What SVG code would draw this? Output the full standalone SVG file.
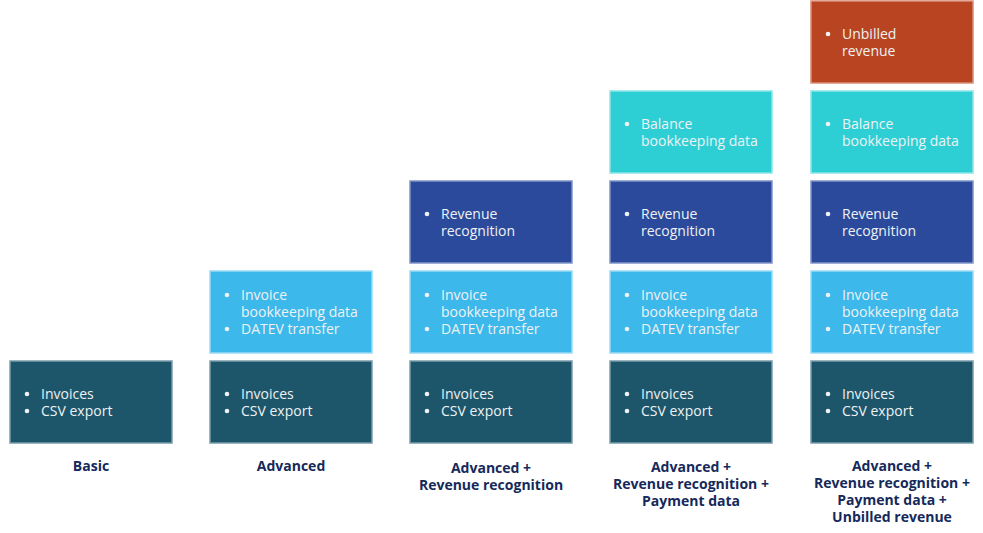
<svg xmlns="http://www.w3.org/2000/svg" width="983" height="533" viewBox="0 0 983 533">
<style>
rect{stroke-width:1.5}
.a{fill:#1D566B;stroke:#7A9DAB}
.b{fill:#3DB8EA;stroke:#9ADAF4}
.c{fill:#2B4A9B;stroke:#8095C8}
.d{fill:#2DCFD4;stroke:#8DE5E8}
.e{fill:#B94421;stroke:#DA8F78}
text{font-family:"Open Sans","Noto Sans","Liberation Sans",sans-serif}
.t{font-size:14px;fill:#EEF2F4}
.l{font-size:14px;font-weight:bold;fill:#15295A;text-anchor:middle}
</style>
<defs>
<g id="inv"><rect class="a" x="0" y="0" width="162" height="82"/><circle cx="17" cy="33" r="2.3" fill="#EEF2F4"/><circle cx="17" cy="50" r="2.3" fill="#EEF2F4"/><text class="t" x="31" y="38">Invoices</text><text class="t" x="31" y="55">CSV export</text></g>
<g id="ibd"><rect class="b" x="0" y="0" width="162" height="82"/><circle cx="17" cy="24" r="2.3" fill="#EEF2F4"/><circle cx="17" cy="58" r="2.3" fill="#EEF2F4"/><text class="t" x="31" y="29">Invoice</text><text class="t" x="31" y="46">bookkeeping data</text><text class="t" x="31" y="63">DATEV transfer</text></g>
<g id="rr"><rect class="c" x="0" y="0" width="162" height="82"/><circle cx="17" cy="33" r="2.3" fill="#EEF2F4"/><text class="t" x="31" y="38">Revenue</text><text class="t" x="31" y="55">recognition</text></g>
<g id="bal"><rect class="d" x="0" y="0" width="162" height="82"/><circle cx="17" cy="33" r="2.3" fill="#EEF2F4"/><text class="t" x="31" y="38">Balance</text><text class="t" x="31" y="55">bookkeeping data</text></g>
<g id="ub"><rect class="e" x="0" y="0" width="162" height="82"/><circle cx="17" cy="33" r="2.3" fill="#EEF2F4"/><text class="t" x="31" y="38">Unbilled</text><text class="t" x="31" y="55">revenue</text></g>
</defs>
<g id="basic">
<use href="#inv" x="10" y="361"/>
<text class="l" x="91" y="471">Basic</text>
</g>
<g id="advanced">
<use href="#inv" x="210" y="361"/>
<use href="#ibd" x="210" y="271"/>
<text class="l" x="291" y="471">Advanced</text>
</g>
<g id="advanced-rr">
<use href="#inv" x="410" y="361"/>
<use href="#ibd" x="410" y="271"/>
<use href="#rr" x="410" y="181"/>
<text class="l" x="491" y="473">Advanced +</text>
<text class="l" x="491" y="490">Revenue recognition</text>
</g>
<g id="advanced-rr-pd">
<use href="#inv" x="610" y="361"/>
<use href="#ibd" x="610" y="271"/>
<use href="#rr" x="610" y="181"/>
<use href="#bal" x="610" y="91"/>
<text class="l" x="691" y="472">Advanced +</text>
<text class="l" x="691" y="489">Revenue recognition +</text>
<text class="l" x="691" y="506">Payment data</text>
</g>
<g id="advanced-rr-pd-ub">
<use href="#inv" x="811" y="361"/>
<use href="#ibd" x="811" y="271"/>
<use href="#rr" x="811" y="181"/>
<use href="#bal" x="811" y="91"/>
<use href="#ub" x="811" y="1"/>
<text class="l" x="892" y="471">Advanced +</text>
<text class="l" x="892" y="488">Revenue recognition +</text>
<text class="l" x="892" y="505">Payment data +</text>
<text class="l" x="892" y="522">Unbilled revenue</text>
</g>
<g id="connectors"/>
</svg>
